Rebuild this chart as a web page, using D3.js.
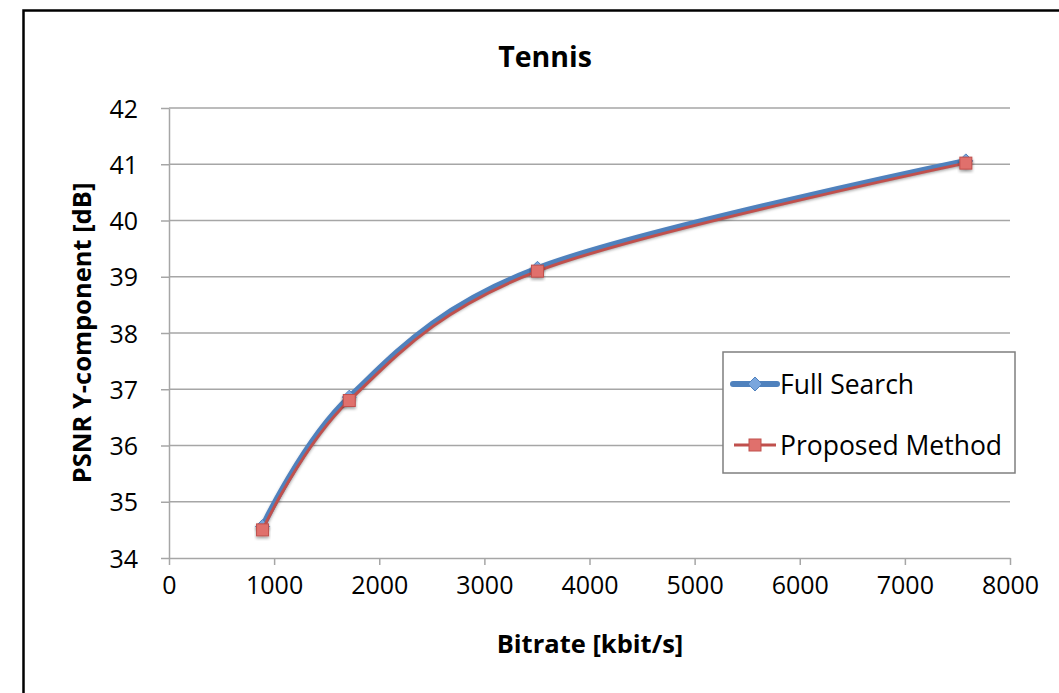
<!DOCTYPE html>
<html><head><meta charset="utf-8">
<script src="https://cdn.jsdelivr.net/npm/d3@7"></script>
<style>
body{margin:0;background:#fff;}
svg{display:block;font-family:"Open Sans",sans-serif;}
</style></head><body>
<svg id="chart" width="1059" height="693"></svg>
<script>
const title = "Tennis";
const xLabel = "Bitrate [kbit/s]";
const yLabel = "PSNR Y-component [dB]";
const bitrate = [890, 1715, 3505, 7580];
const fullSearch = [34.56, 36.86, 39.15, 41.06];
const proposed = [34.50, 36.80, 39.10, 41.02];
const xTicks = [0,1000,2000,3000,4000,5000,6000,7000,8000];
const yTicks = [34,35,36,37,38,39,40,41,42];
const seriesNames = ["Full Search", "Proposed Method"];

const svg = d3.select("#chart");
const x = d3.scaleLinear().domain([0,8000]).range([169,1010]);
const y = d3.scaleLinear().domain([34,42]).range([558,108]);

const defs = svg.append("defs");
const f = defs.append("filter").attr("id","sh").attr("x","-20%").attr("y","-20%").attr("width","140%").attr("height","160%");
f.append("feDropShadow").attr("dx",0).attr("dy",2).attr("stdDeviation",1.8).attr("flood-color","#000").attr("flood-opacity",0.35);

// outer border
svg.append("path").attr("d","M23.5,1100 V10.5 H1100").attr("fill","none").attr("stroke","#000").attr("stroke-width",2.5);

// gridlines
svg.append("g").selectAll("line").data(yTicks.slice(1)).join("line")
  .attr("x1",x(0)).attr("x2",x(8000)).attr("y1",d=>y(d)).attr("y2",d=>y(d))
  .attr("stroke","#a6a6a6").attr("stroke-width",1.3);

// axes
const gx = svg.append("g").attr("transform",`translate(0,${y(34)})`)
  .call(d3.axisBottom(x).tickValues(xTicks).tickFormat(d3.format("d")).tickSize(7).tickPadding(11).tickSizeOuter(0));
const gy = svg.append("g").attr("transform",`translate(${x(0)},0)`)
  .call(d3.axisLeft(y).tickValues(yTicks).tickFormat(d3.format("d")).tickSize(8).tickPadding(23).tickSizeOuter(0));
[gx,gy].forEach(g=>{
  g.select(".domain").attr("stroke","#a6a6a6").attr("stroke-width",1.5);
  g.selectAll(".tick line").attr("stroke","#a6a6a6").attr("stroke-width",1.5);
  g.selectAll(".tick text").attr("fill","#000").style("font-size","25px").style("font-family","'Open Sans',sans-serif");
});
gx.selectAll(".tick text").attr("dy","0.71em");
gy.selectAll(".tick text").attr("dy","0.36em");

// titles
svg.append("text").attr("x",545).attr("y",67).attr("text-anchor","middle")
  .style("font-size","28.5px").style("font-weight","bold").text(title);
svg.append("text").attr("x",590).attr("y",653).attr("text-anchor","middle")
  .style("font-size","25.5px").style("font-weight","bold").text(xLabel);
svg.append("text").attr("transform","translate(91,333) rotate(-90)").attr("text-anchor","middle")
  .style("font-size","25.5px").style("font-weight","bold").text(yLabel);

const line = d3.line().curve(d3.curveCatmullRom.alpha(0));
const fsPts = bitrate.map((b,i)=>[x(b),y(fullSearch[i])]);
const pmPts = bitrate.map((b,i)=>[x(b),y(proposed[i])]);

const blue = "#4f81bd", blueM = "#7aa6dd", red = "#c0504d", redM = "#e0706c";
svg.append("path").attr("d",line(fsPts)).attr("fill","none").attr("stroke",blue)
  .attr("stroke-width",6).attr("stroke-linecap","round").attr("filter","url(#sh)");
svg.append("g").selectAll("path").data(fsPts).join("path")
  .attr("d",d=>`M${d[0]},${d[1]-7} L${d[0]+7},${d[1]} L${d[0]},${d[1]+7} L${d[0]-7},${d[1]} Z`)
  .attr("fill",blueM).attr("stroke",blue).attr("stroke-width",1).attr("filter","url(#sh)");
svg.append("path").attr("d",line(pmPts)).attr("fill","none").attr("stroke",red)
  .attr("stroke-width",3).attr("stroke-linecap","round");
svg.append("g").selectAll("rect").data(pmPts).join("rect")
  .attr("x",d=>d[0]-6).attr("y",d=>d[1]-6).attr("width",12).attr("height",12)
  .attr("fill",redM).attr("stroke",red).attr("stroke-width",1).attr("filter","url(#sh)");

// legend
const lg = svg.append("g");
lg.append("rect").attr("x",723).attr("y",352).attr("width",292).attr("height",121)
  .attr("fill","#fff").attr("stroke","#7f7f7f").attr("stroke-width",1.5);
lg.append("line").attr("x1",733).attr("x2",777).attr("y1",384).attr("y2",384)
  .attr("stroke",blue).attr("stroke-width",6).attr("stroke-linecap","round");
lg.append("path").attr("d","M755,377 L762,384 L755,391 L748,384 Z").attr("fill",blueM).attr("stroke",blue);
lg.append("line").attr("x1",734).attr("x2",776).attr("y1",445).attr("y2",445)
  .attr("stroke",red).attr("stroke-width",3);
lg.append("rect").attr("x",749).attr("y",439).attr("width",12).attr("height",12).attr("fill",redM).attr("stroke",red);
lg.selectAll("text.l").data(seriesNames).join("text")
  .attr("x",780).attr("y",(d,i)=>384+i*61).attr("dy","0.36em")
  .style("font-size","26.5px").text(d=>d);
</script>
</body></html>
